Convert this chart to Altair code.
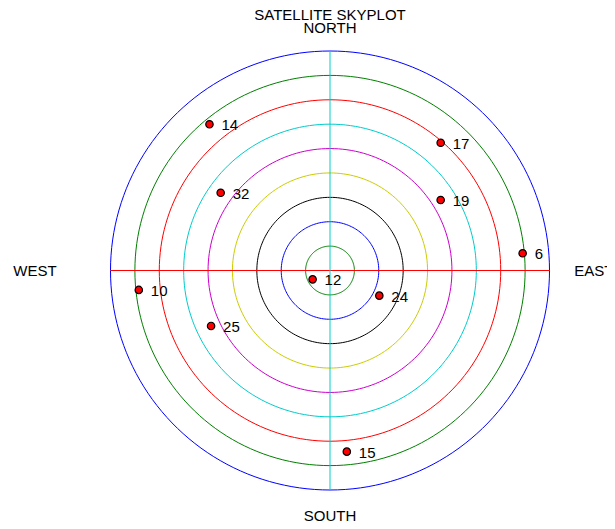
import altair as alt
import pandas as pd

# Satellites: PRN, azimuth (deg from north, clockwise), elevation (deg)
sat_prn = ["14", "17", "32", "19", "6", "10", "12", "24", "25", "15"]
sat_az = [320.5, 40.9, 305.4, 57.5, 84.9, 264.2, 243.0, 117.0, 245.0, 174.7]
sat_el = [12.3, 20.7, 35.0, 36.2, 10.7, 11.2, 82.0, 67.3, 36.2, 15.4]

# Elevation rings (inner to outer) and their colours
ring_el = [80, 70, 60, 50, 40, 30, 20, 10, 0]
ring_colors = ["#008000", "#0000ff", "#000000", "#cccc00", "#cc00cc",
               "#00cccc", "#ff0000", "#008000", "#0000ff"]

# Compass / title labels: text, azimuth, distance from centre (in zenith-degrees)
lbl_text = ["SATELLITE SKYPLOT", "NORTH", "SOUTH", "WEST", "EAST"]
lbl_az = [0, 0, 180, 270, 90]
lbl_dist = [104.6, 99.6, 100.7, 121.0, 108.2]

FONT = "Liberation Sans"
xs = alt.Scale(domain=[-90, 90], nice=False, zero=False)
ys = alt.Scale(domain=[-90, 90], nice=False, zero=False)

sats = pd.DataFrame({"prn": sat_prn, "az": sat_az, "el": sat_el})
rings = pd.DataFrame({"ring": list(range(len(ring_el))), "el": ring_el})
labels = pd.DataFrame({"t": lbl_text, "az": lbl_az, "d": lbl_dist})

ring_layer = alt.Chart(rings).transform_calculate(
    ang="sequence(0, 362, 2)"
).transform_flatten(["ang"]).transform_calculate(
    x="(90 - datum.el) * sin(datum.ang * PI / 180)",
    y="(90 - datum.el) * cos(datum.ang * PI / 180)",
).mark_line(strokeWidth=1).encode(
    x=alt.X("x:Q", scale=xs, axis=None),
    y=alt.Y("y:Q", scale=ys, axis=None),
    detail="ring:N",
    order="ang:Q",
    color=alt.Color("ring:N", scale=alt.Scale(domain=list(range(len(ring_el))), range=ring_colors), legend=None),
)

axes_df = pd.DataFrame({
    "x": [-90, 0], "x2": [90, 0], "y": [0, -90], "y2": [0, 90], "c": ["h", "v"]
})
cross = alt.Chart(axes_df).mark_rule(strokeWidth=1).encode(
    x=alt.X("x:Q", scale=xs, axis=None), x2="x2:Q",
    y=alt.Y("y:Q", scale=ys, axis=None), y2="y2:Q",
    color=alt.Color("c:N", scale=alt.Scale(domain=["h", "v"], range=["#ff0000", "#00cccc"]), legend=None),
)

sat_base = alt.Chart(sats).transform_calculate(
    x="(90 - datum.el) * sin(datum.az * PI / 180)",
    y="(90 - datum.el) * cos(datum.az * PI / 180)",
)
sat_pts = sat_base.mark_point(shape="circle", filled=True, size=55, fill="#ff0000",
                              stroke="#000000", strokeWidth=1.2, opacity=1).encode(
    x=alt.X("x:Q", scale=xs, axis=None),
    y=alt.Y("y:Q", scale=ys, axis=None),
)
sat_txt = sat_base.mark_text(align="left", baseline="middle", dx=12, dy=1,
                             font=FONT, fontSize=15, color="#000000").encode(
    x=alt.X("x:Q", scale=xs, axis=None),
    y=alt.Y("y:Q", scale=ys, axis=None),
    text="prn:N",
)

lbl_layer = alt.Chart(labels).transform_calculate(
    x="datum.d * sin(datum.az * PI / 180)",
    y="datum.d * cos(datum.az * PI / 180)",
).mark_text(align="center", baseline="middle", font=FONT, fontSize=15, color="#000000").encode(
    x=alt.X("x:Q", scale=xs, axis=None),
    y=alt.Y("y:Q", scale=ys, axis=None),
    text="t:N",
)

chart = alt.layer(ring_layer, cross, sat_pts, sat_txt, lbl_layer).resolve_scale(
    color="independent"
).properties(
    width=439, height=439,
    autosize=alt.AutoSizeParams(type="none"),
    padding={"left": 102.5, "top": 43, "right": 57, "bottom": 31},
).configure_view(stroke=None)

chart.save("out.html", embed_options={"renderer": "svg", "actions": False})
